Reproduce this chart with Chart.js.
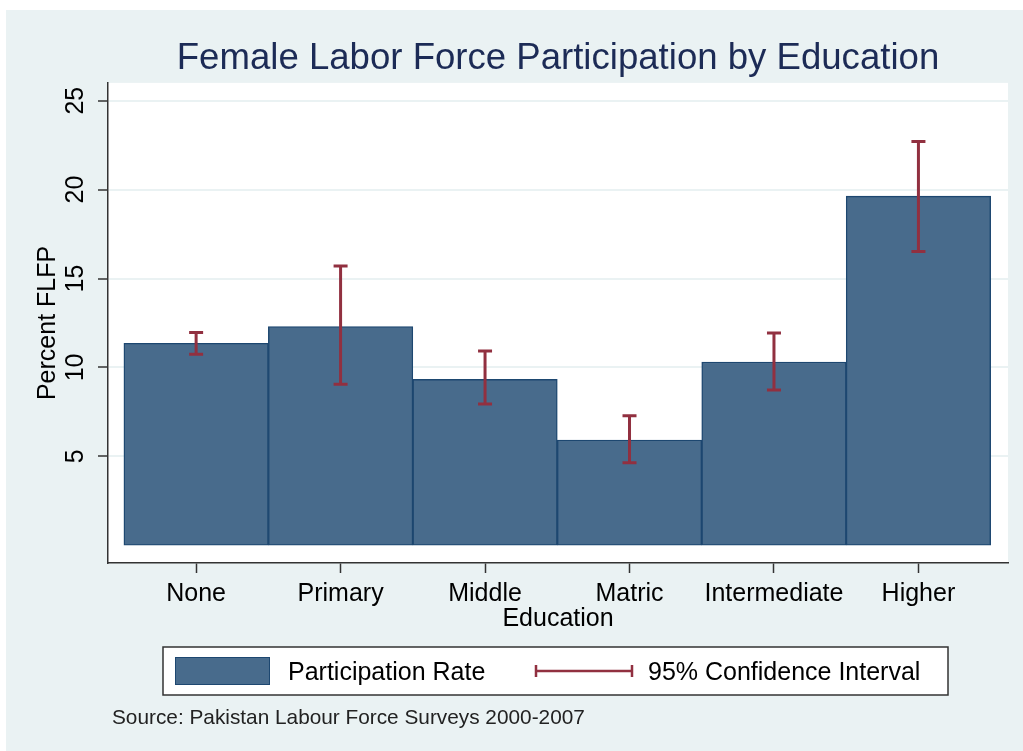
<!DOCTYPE html>
<html>
<head>
<meta charset="utf-8">
<script src="https://cdn.jsdelivr.net/npm/chart.js@4.4.0/dist/chart.umd.min.js"></script>
<style>
	body { margin: 0; background: #ffffff; }
	#wrap { position: absolute; left: 6px; top: 10px; }
	canvas { background: #eaf2f3; }
</style>
</head>
<body>
<div id="wrap"><canvas id="myChart" width="1017" height="741"></canvas></div>
<script>
// data
var categories = ["None", "Primary", "Middle", "Matric", "Intermediate", "Higher"];
var rate = [11.36, 12.3, 9.33, 5.92, 10.3, 19.63];
var ciLow = [10.74, 9.05, 7.94, 4.64, 8.73, 16.52];
var ciHigh = [11.97, 15.7, 10.92, 7.28, 11.93, 22.7];
var yTicks = [5, 10, 15, 20, 25];

var barColor = '#486b8c';
var barEdge = '#1d4770';
var ciColor = '#913040';

Chart.defaults.font.family = "'Liberation Sans', Arial, sans-serif";
Chart.defaults.color = '#000';

// white plot region
var plotBg = {
	id: 'plotBg',
	beforeDraw: function(chart) {
		var a = chart.chartArea, ctx = chart.ctx;
		ctx.save();
		ctx.fillStyle = '#ffffff';
		ctx.fillRect(a.left, a.top, a.right - a.left, a.bottom - a.top);
		ctx.restore();
	}
};

// confidence interval whiskers
var ciBars = {
	id: 'ciBars',
	afterDatasetsDraw: function(chart) {
		var ctx = chart.ctx, xs = chart.scales.x, ys = chart.scales.y;
		ctx.save();
		ctx.strokeStyle = ciColor;
		ctx.lineWidth = 3;
		for (var i = 0; i < categories.length; i++) {
			var x = xs.getPixelForValue(i + 1);
			var y1 = ys.getPixelForValue(ciLow[i]);
			var y2 = ys.getPixelForValue(ciHigh[i]);
			ctx.beginPath();
			ctx.moveTo(x, y1); ctx.lineTo(x, y2);
			ctx.moveTo(x - 7, y1); ctx.lineTo(x + 7, y1);
			ctx.moveTo(x - 7, y2); ctx.lineTo(x + 7, y2);
			ctx.stroke();
		}
		ctx.restore();
	}
};

// stata-like boxed legend + source note
var boxLegend = {
	id: 'boxLegend',
	afterDraw: function(chart) {
		var ctx = chart.ctx;
		ctx.save();
		ctx.fillStyle = '#ffffff';
		ctx.fillRect(157, 637, 785, 48);
		ctx.strokeStyle = '#333';
		ctx.lineWidth = 1.5;
		ctx.strokeRect(157, 637, 785, 48);

		ctx.fillStyle = barColor;
		ctx.fillRect(169, 647, 95, 28);
		ctx.strokeStyle = barEdge;
		ctx.lineWidth = 1;
		ctx.strokeRect(169.5, 647.5, 94, 27);

		ctx.strokeStyle = ciColor;
		ctx.lineWidth = 2.5;
		ctx.beginPath();
		ctx.moveTo(529, 661); ctx.lineTo(627, 661);
		ctx.moveTo(530, 655); ctx.lineTo(530, 667);
		ctx.moveTo(626, 655); ctx.lineTo(626, 667);
		ctx.stroke();

		ctx.fillStyle = '#000';
		ctx.font = "25px 'Liberation Sans', Arial, sans-serif";
		ctx.textBaseline = 'middle';
		ctx.fillText(chart.data.datasets[0].label, 282, 663);
		ctx.fillText('95% Confidence Interval', 642, 663);

		ctx.fillStyle = '#222';
		ctx.font = "20.8px 'Liberation Sans', Arial, sans-serif";
		ctx.fillText('Source: Pakistan Labour Force Surveys 2000-2007', 106, 708);
		ctx.restore();
	}
};

var myChart = new Chart(document.getElementById("myChart"), {
	type: 'bar',
	data: {
		datasets: [{
			label: "Participation Rate",
			data: categories.map(function(c, i) { return {x: i + 1, y: rate[i]}; }),
			backgroundColor: barColor,
			borderColor: barEdge,
			borderWidth: 1.4,
			borderSkipped: false,
			barPercentage: 1,
			categoryPercentage: 1
		}]
	},
	plugins: [plotBg, ciBars, boxLegend],
	options: {
		responsive: false,
		devicePixelRatio: 1,
		animation: false,
		layout: {
			padding: {left: 0, right: 15, top: 0, bottom: 117}
		},
		plugins: {
			legend: { display: false },
			tooltip: { enabled: false },
			title: {
				display: true,
				fullSize: false,
				text: 'Female Labor Force Participation by Education',
				color: '#1c2b56',
				font: { size: 36.6, weight: 'normal' },
				padding: { top: 27, bottom: 2 }
			}
		},
		scales: {
			x: {
				type: 'linear',
				min: 0.39,
				max: 6.62,
				offset: false,
				afterBuildTicks: function(axis) {
					axis.ticks = categories.map(function(c, i) { return {value: i + 1}; });
				},
				afterFit: function(axis) { axis.height = 71; },
				grid: {
					offset: false,
					drawOnChartArea: false,
					drawTicks: true,
					tickLength: 10,
					tickColor: '#333',
					tickWidth: 1.5
				},
				border: { display: true, color: '#333', width: 1.5 },
				ticks: {
					padding: 6,
					autoSkip: false,
					minRotation: 0,
					maxRotation: 0,
					font: { size: 25 },
					callback: function(v) { return categories[v - 1]; }
				},
				title: {
					display: true,
					text: 'Education',
					font: { size: 25 },
					padding: { top: 0, bottom: 0 }
				}
			},
			y: {
				min: -1,
				max: 26,
				afterBuildTicks: function(axis) {
					axis.ticks = yTicks.map(function(v) { return {value: v}; });
				},
				afterFit: function(axis) { axis.width = 102; },
				grid: {
					color: '#eaf2f3',
					lineWidth: 2,
					tickLength: 10,
					tickColor: '#333',
					tickWidth: 1.5
				},
				border: { display: true, color: '#333', width: 1.5 },
				ticks: {
					padding: 8,
					minRotation: 90,
					maxRotation: 90,
					crossAlign: 'center',
					font: { size: 25 }
				},
				title: {
					display: true,
					text: 'Percent FLFP',
					font: { size: 25 },
					padding: { top: 27, bottom: 0 }
				}
			}
		}
	}
});
</script>
</body>
</html>
